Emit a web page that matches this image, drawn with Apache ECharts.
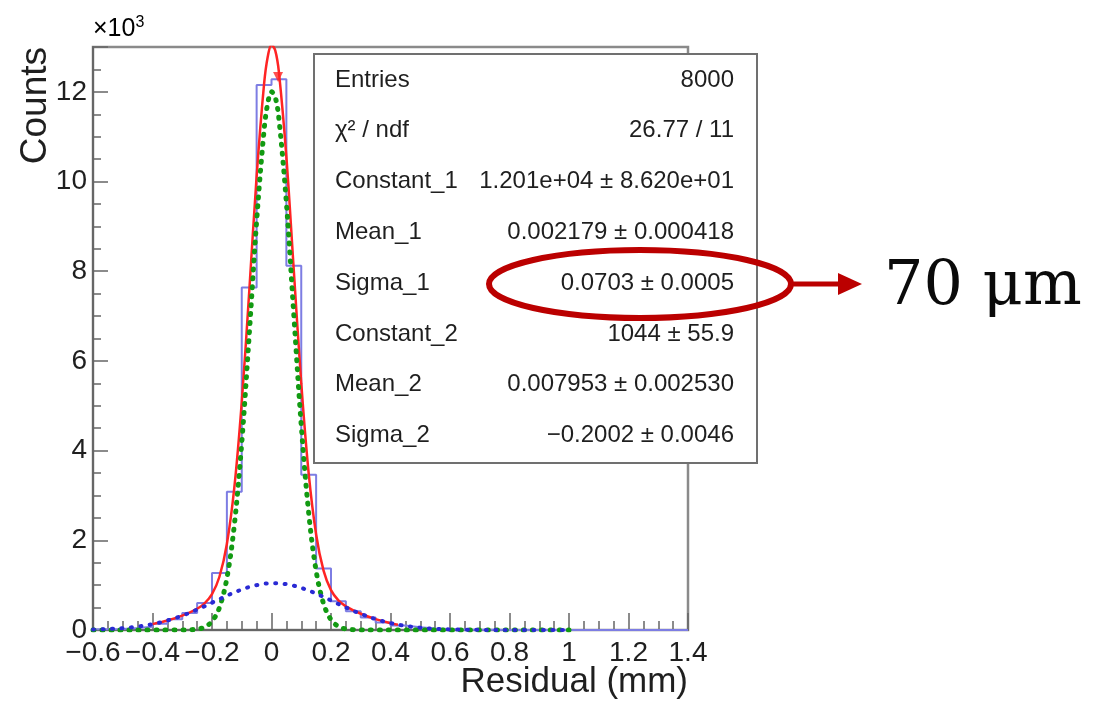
<!DOCTYPE html>
<html>
<head>
<meta charset="utf-8">
<script src="https://cdn.jsdelivr.net/npm/echarts@6/dist/echarts.min.js"></script>
<style>
  html, body { margin: 0; padding: 0; background: #ffffff; }
  #chart { width: 1101px; height: 706px; }
</style>
</head>
<body>
<div id="chart"></div>
<script>
// Residual histogram: lower bin edges (mm) and bin contents
const binEdges = [-0.6, -0.55, -0.5, -0.45, -0.4, -0.35, -0.3, -0.25, -0.2, -0.15,
                  -0.1, -0.05, 0, 0.05, 0.1, 0.15, 0.2, 0.25, 0.3, 0.35,
                  0.4, 0.45, 0.5, 0.55, 0.6, 0.65, 0.7, 0.75, 0.8, 0.85,
                  0.9, 0.95, 1.0, 1.05, 1.1, 1.15, 1.2, 1.25, 1.3, 1.35];
const histUpperEdge = 1.4;
const binCounts = [15, 25, 45, 75, 140, 240, 380, 600, 1270, 3080,
                   7640, 12150, 12280, 8120, 3460, 1370, 640, 420, 280, 170,
                   100, 60, 35, 20, 10, 5, 3, 1, 0, 0,
                   0, 0, 0, 0, 0, 0, 0, 0, 0, 0];

// Fit components sampled along x (mm)
const compX = [-0.6, -0.55, -0.5, -0.45, -0.4, -0.35, -0.3, -0.25, -0.225, -0.2,
               -0.175, -0.15, -0.125, -0.1, -0.075, -0.05, -0.025, -0.0125, 0, 0.0125,
               0.025, 0.05, 0.075, 0.1, 0.125, 0.15, 0.175, 0.2, 0.225, 0.25,
               0.3, 0.35, 0.4, 0.45, 0.5, 0.55, 0.6, 0.65, 0.7, 0.75,
               0.8, 0.85, 0.9, 0.95, 1.0];
// narrow gaussian (green)
const gaus1Y = [0, 0, 0, 0, 0, 0, 1, 19, 65, 192,
                500, 1153, 2337, 4174, 6572, 9115, 11143, 11750, 12004, 11882,
                11395, 9531, 7026, 4564, 2611, 1318, 586, 229, 79, 24,
                2, 0, 0, 0, 0, 0, 0, 0, 0, 0,
                0, 0, 0, 0, 0];
// wide gaussian (blue)
const gaus2Y = [10, 22, 42, 76, 131, 211, 320, 455, 530, 609,
                687, 765, 837, 903, 958, 1001, 1030, 1038, 1043, 1044,
                1040, 1021, 987, 939, 880, 812, 737, 659, 580, 503,
                360, 243, 154, 91, 51, 27, 13, 6, 3, 1,
                0, 0, 0, 0, 0];

// Total fit (red), over the fit range
const totalX = [-0.4, -0.35, -0.3, -0.25, -0.225, -0.2, -0.175, -0.15, -0.125, -0.1,
                -0.075, -0.05, -0.025, -0.0125, 0, 0.0125, 0.025, 0.05, 0.075, 0.1,
                0.125, 0.15, 0.175, 0.2, 0.225, 0.25, 0.3, 0.35, 0.4, 0.425];
const totalY = [131, 211, 321, 474, 595, 801, 1187, 1918, 3174, 5077,
                7530, 10116, 12173, 12788, 13047, 12925, 12435, 10552, 8013, 5503,
                3491, 2130, 1323, 888, 659, 527, 362, 243, 154, 119];

// Peak marker
const peakMarker = [[0.022, 12330]];

// Fit statistics panel
const statsLabels = ['Entries', 'χ² / ndf', 'Constant_1', 'Mean_1', 'Sigma_1',
                     'Constant_2', 'Mean_2', 'Sigma_2'];
const statsValues = ['8000', '26.77 / 11', '1.201e+04 ± 8.620e+01', '0.002179 ± 0.000418',
                     '0.0703 ± 0.0005', '1044 ± 55.9', '0.007953 ± 0.002530', '−0.2002 ± 0.0046'];

const annotationText = '70 μm';

const histPoints = binEdges.map((e, i) => [e, binCounts[i]]);
histPoints.push([histUpperEdge, 0]);
const zip = (xs, ys) => xs.map((x, i) => [x, ys[i]]);

const SANS = '"Liberation Sans", Arial, Helvetica, sans-serif';
const AXIS_GREY = '#666';
const TEXT = '#1f1f1f';

const statsChildren = [];
statsChildren.push({
  type: 'rect',
  shape: { x: 314, y: 54, width: 443, height: 409 },
  style: { fill: '#ffffff', stroke: '#707070', lineWidth: 2 }
});
statsLabels.forEach((lab, i) => {
  const y = 80 + i * 50.8;
  statsChildren.push({
    type: 'text', x: 335, y: y,
    style: { text: lab, font: '24px ' + SANS, fill: TEXT, align: 'left', verticalAlign: 'middle' }
  });
  statsChildren.push({
    type: 'text', x: 734, y: y,
    style: { text: statsValues[i], font: '24px ' + SANS, fill: TEXT, align: 'right', verticalAlign: 'middle' }
  });
});

const chart = echarts.init(document.getElementById('chart'), null, { renderer: 'canvas' });
chart.setOption({
  animation: false,
  backgroundColor: '#ffffff',
  grid: {
    left: 93, right: 413, top: 47, bottom: 76,
    show: true, borderColor: '#8a8a8a', borderWidth: 2.5, backgroundColor: 'transparent',
    containLabel: false, outerBoundsMode: 'none'
  },
  xAxis: {
    type: 'value', min: -0.6, max: 1.4, interval: 0.2,
    axisLine: { show: true, onZero: false, lineStyle: { color: AXIS_GREY, width: 2 } },
    axisTick: { show: true, inside: true, length: 17, lineStyle: { color: AXIS_GREY, width: 1.5 } },
    minorTick: { show: true, splitNumber: 4, length: 9, lineStyle: { color: AXIS_GREY, width: 1.5 } },
    splitLine: { show: false },
    axisLabel: {
      margin: 9, color: TEXT, fontSize: 28, fontFamily: SANS,
      formatter: v => { const r = Math.round(v * 10) / 10; return (r < 0 ? '−' : '') + String(Math.abs(r)); }
    }
  },
  yAxis: {
    type: 'value', min: 0, max: 13000, interval: 2000,
    axisLine: { show: true, onZero: false, lineStyle: { color: AXIS_GREY, width: 2 } },
    axisTick: { show: true, inside: true, length: 15, lineStyle: { color: AXIS_GREY, width: 1.5 } },
    minorTick: { show: true, splitNumber: 4, length: 8, lineStyle: { color: AXIS_GREY, width: 1.5 } },
    splitLine: { show: false },
    axisLabel: {
      margin: 6, color: TEXT, fontSize: 28, fontFamily: SANS,
      showMaxLabel: false,
      formatter: v => (v >= 13000 ? '' : String(Math.round(v / 1000)))
    }
  },
  series: [
    {
      name: 'histogram', type: 'line', data: histPoints, step: 'end',
      symbol: 'none', z: 2,
      lineStyle: { color: '#7d7de3', width: 2 }
    },
    {
      name: 'total fit', type: 'line', data: zip(totalX, totalY), smooth: 0.35,
      symbol: 'none', z: 3,
      lineStyle: { color: '#ff2424', width: 2.5 }
    },
    {
      name: 'gaus 1', type: 'line', data: zip(compX, gaus1Y), smooth: 0.35,
      symbol: 'none', z: 4,
      lineStyle: { color: '#129a12', width: 5, type: [1, 8], cap: 'round' }
    },
    {
      name: 'gaus 2', type: 'line', data: zip(compX, gaus2Y), smooth: 0.35,
      symbol: 'none', z: 5,
      lineStyle: { color: '#2a2ad4', width: 4, type: [1, 8.5], cap: 'round' }
    },
    {
      name: 'peak', type: 'scatter', data: peakMarker, symbol: 'triangle',
      symbolRotate: 180, symbolSize: 10, z: 6,
      itemStyle: { color: '#ff2424' }
    }
  ],
  graphic: [
    { type: 'group', z: 100, children: statsChildren },
    {
      type: 'text', z: 100, x: 93, y: 43,
      style: {
        text: '{a|×10}{b|3}', verticalAlign: 'bottom', align: 'left',
        rich: {
          a: { fontSize: 25, fontFamily: SANS, color: TEXT },
          b: { fontSize: 16, fontFamily: SANS, color: TEXT, verticalAlign: 'top', padding: [0, 0, 12, 0] }
        }
      }
    },
    {
      type: 'text', z: 100, x: 36, y: 47, rotation: Math.PI / 2,
      style: { text: 'Counts', font: '37px ' + SANS, fill: TEXT, align: 'right', verticalAlign: 'middle' }
    },
    {
      type: 'text', z: 100, x: 688, y: 682,
      style: { text: 'Residual (mm)', font: '35px ' + SANS, fill: TEXT, align: 'right', verticalAlign: 'middle' }
    },
    {
      type: 'ellipse', z: 110,
      shape: { cx: 640, cy: 284, rx: 151, ry: 34 },
      style: { fill: 'none', stroke: '#bb0000', lineWidth: 6 }
    },
    {
      type: 'line', z: 110,
      shape: { x1: 790, y1: 284, x2: 842, y2: 284 },
      style: { stroke: '#bb0000', lineWidth: 5 }
    },
    {
      type: 'polygon', z: 110,
      shape: { points: [[838, 273], [862, 284], [838, 295]] },
      style: { fill: '#bb0000' }
    },
    {
      type: 'text', z: 110, x: 884, y: 288,
      style: { text: annotationText, font: '62px "DejaVu Serif", serif', fill: '#0a0a0a', align: 'left', verticalAlign: 'middle' }
    }
  ]
});
</script>
</body>
</html>
